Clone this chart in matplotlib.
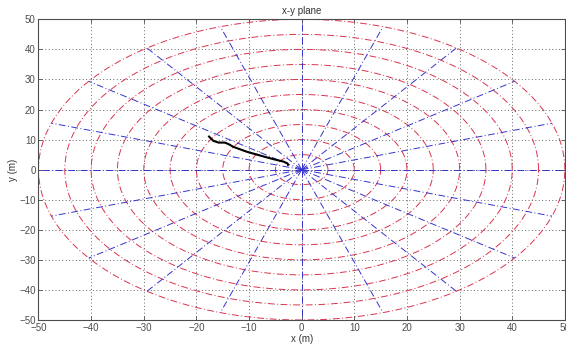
import numpy as np
import matplotlib
matplotlib.use('Agg')
import matplotlib.pyplot as plt

# polar grid: circle radii (m) and spoke angles (deg)
radii = [5, 10, 15, 20, 25, 30, 35, 40, 45, 50]
spoke_angles = [0, 18, 36, 54, 72, 90, 108, 126, 144, 162,
                180, 198, 216, 234, 252, 270, 288, 306, 324, 342]

# trajectory (m)
traj_x = [-17.6, -16.8, -15.8, -14.6, -13.9, -13.0, -10.5, -7.9, -5.4, -3.5, -2.7, -2.6]
traj_y = [11.0, 9.6, 9.0, 9.0, 8.5, 7.6, 6.0, 4.7, 3.5, 2.7, 2.1, 1.6]

ticks = [-50, -40, -30, -20, -10, 0, 10, 20, 30, 40, 50]

plt.rcParams['font.family'] = ['Liberation Sans', 'DejaVu Sans']

fig = plt.figure(figsize=(5.66, 3.48), dpi=100)
ax = fig.add_axes([0.068, 0.0805, 0.930, 0.864])

red = (0.85, 0.2, 0.3)
blue = (0.2, 0.2, 0.8)
dd = (7, 2.5, 1, 2.5)

t = np.linspace(0, 2*np.pi, 400)
for r in radii:
    ax.plot(r*np.cos(t), r*np.sin(t), color=red, lw=0.7, dashes=dd)

for a in spoke_angles:
    th = np.deg2rad(a)
    ax.plot([0, 50*np.cos(th)], [0, 50*np.sin(th)], color=blue, lw=0.7, dashes=dd)

ax.plot(traj_x, traj_y, color='k', lw=1.5)

ax.set_xlim(-50, 50)
ax.set_ylim(-50, 50)
ax.set_xticks(ticks)
ax.set_yticks(ticks)
ax.grid(True, linestyle=(0, (1, 2.5)), color='0.4', lw=0.7)
ax.tick_params(direction='in', top=True, right=True, labelsize=7, length=3,
               width=0.6, pad=2, colors='0.3')
for s in ax.spines.values():
    s.set_color('0.3')
    s.set_linewidth(0.8)

ax.set_title('x-y plane', fontsize=7, pad=4, color='0.2')
ax.set_xlabel('x (m)', fontsize=7, labelpad=1, color='0.2')
ax.set_ylabel('y (m)', fontsize=7, labelpad=1, color='0.2')

fig.savefig('out.png', dpi=100)
